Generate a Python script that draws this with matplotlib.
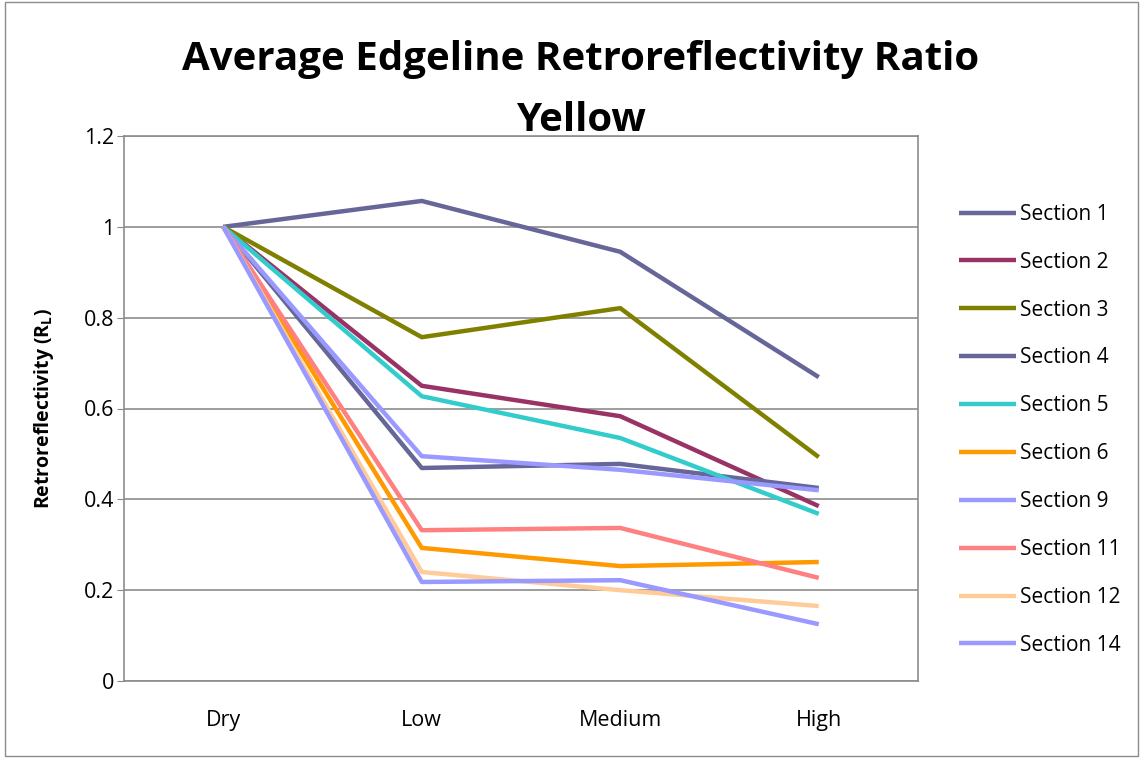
import matplotlib

matplotlib.use("Agg")
import matplotlib.pyplot as plt

categories = ["Dry", "Low", "Medium", "High"]
sections = ["Section 1", "Section 2", "Section 3", "Section 4", "Section 5",
            "Section 6", "Section 9", "Section 11", "Section 12", "Section 14"]
sec1 = [1.0, 1.057, 0.945, 0.669]
sec2 = [1.0, 0.650, 0.583, 0.385]
sec3 = [1.0, 0.757, 0.821, 0.493]
sec4 = [1.0, 0.469, 0.478, 0.425]
sec5 = [1.0, 0.627, 0.535, 0.368]
sec6 = [1.0, 0.293, 0.253, 0.262]
sec9 = [1.0, 0.495, 0.465, 0.420]
sec11 = [1.0, 0.332, 0.337, 0.227]
sec12 = [1.0, 0.240, 0.200, 0.165]
sec14 = [1.0, 0.218, 0.222, 0.125]
values = [sec1, sec2, sec3, sec4, sec5, sec6, sec9, sec11, sec12, sec14]
colors = ["#666699", "#993366", "#808000", "#666699", "#33CCCC",
          "#FF9900", "#9999FF", "#FF8080", "#FFCC99", "#9999FF"]

plt.rcParams["font.family"] = ["Open Sans", "DejaVu Sans"]

fig = plt.figure(figsize=(11.43, 7.61), dpi=100)
ax = fig.add_axes([124 / 1143, 1 - 681 / 761, 794 / 1143, 545 / 761])

x = list(range(len(categories)))
for name, vals, col in zip(sections, values, colors):
    ax.plot(x, vals, color=col, linewidth=3.2, label=name, solid_capstyle="butt")

ax.set_xlim(-0.5, len(categories) - 0.5)
ax.set_ylim(0, 1.2)
ax.set_yticks([0, 0.2, 0.4, 0.6, 0.8, 1, 1.2])
ax.set_yticklabels(["0", "0.2", "0.4", "0.6", "0.8", "1", "1.2"])
ax.set_xticks(x)
ax.set_xticklabels(categories)
ax.tick_params(axis="both", labelsize=15.5, length=5, color="#888888")
ax.tick_params(axis="x", length=0, pad=21)
ax.tick_params(axis="y", pad=2)
ax.grid(True, axis="y", color="#8c8c8c", linewidth=1.2)
ax.set_axisbelow(True)
for sp in ax.spines.values():
    sp.set_color("#8c8c8c")
    sp.set_linewidth(1.2)
ax.set_ylabel("Retroreflectivity (R$_\\mathregular{L}$)", fontsize=14, fontweight="bold", labelpad=20)

fig.text(0.508, 0.922, "Average Edgeline Retroreflectivity Ratio", ha="center", va="center",
         fontsize=29, fontweight="bold")
fig.text(0.508, 0.842, "Yellow", ha="center", va="center", fontsize=29, fontweight="bold")

ax.legend(loc="upper left", bbox_to_anchor=(1.028, 0.91), frameon=False, fontsize=15,
          handlelength=2.75, labelspacing=1.29, handletextpad=0.2)

border = plt.Rectangle((0.004, 0.007), 0.992, 0.99, transform=fig.transFigure,
                       fill=False, edgecolor="#8c8c8c", linewidth=1)
fig.patches.append(border)

fig.savefig("out.png")
